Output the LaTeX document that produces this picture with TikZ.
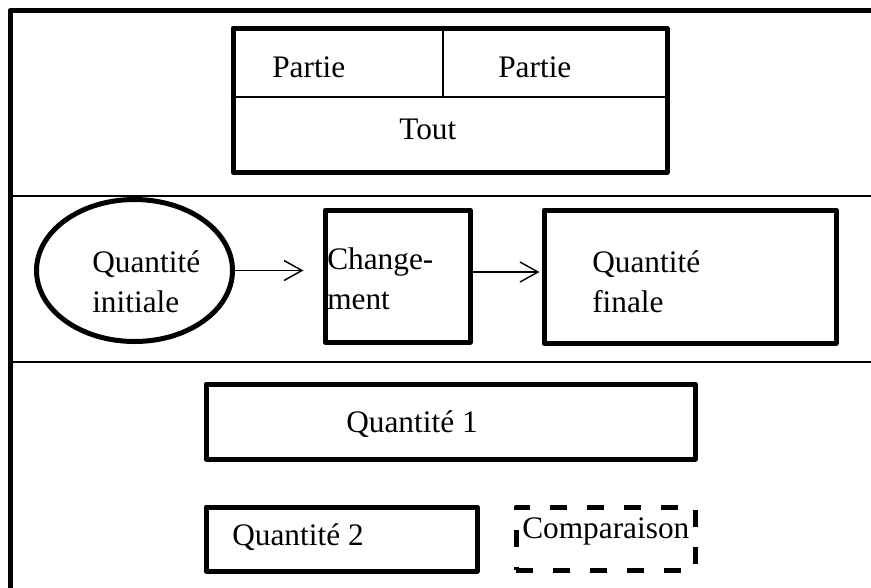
\documentclass[tikz,border=0pt]{standalone}
\usepackage{fontspec}
\setmainfont{Liberation Serif}
\usetikzlibrary{arrows.meta, fit, shapes}
\tikzset{
    boxT/.style={draw, line width=3.75pt, line join=round, inner sep=0pt},
    boxD/.style={boxT, dash pattern=on 12.75pt off 15pt},
    bareS/.style={line width=1.5pt},
    bareA/.style={line width=1.1pt, -{Straight Barb[length=13.5pt,width=15pt]}},
    txt/.style={inner sep=0pt, anchor=base west, align=left, font=\fontsize{23.5}{30}\selectfont}
}
\begin{document}
\begin{tikzpicture}[x=0.75pt, y=-0.75pt]
    \useasboundingbox (0,0) rectangle (871,587);
    % frame and the two bands
    \draw[line width=3.75pt, line join=round] (10,600) -- (10,10.5) -- (880,10.5);
    \draw[bareS] (10,196) -- (880,196);
    \draw[bareS] (10,362) -- (880,362);
    % parts and whole
    \coordinate (t1) at (233,28);
    \coordinate (t2) at (667,172);
    \coordinate (t3) at (443,97);
    \node[boxT, fit={(t1)(t2)}] (tout) {};
    \draw[line width=2pt] (tout.west |- t3) -- (tout.east |- t3);
    \draw[line width=2pt] (tout.north -| t3) -- (t3);
    \node[txt] (pA) at (272,77) {Partie};
    \node[txt] (pB) at (498,77) {Partie};
    \node[txt] (tT) at (399,139) {Tout};
    % change
    \coordinate (c1) at (325,210);
    \coordinate (c2) at (470,342);
    \coordinate (f1) at (544,210);
    \coordinate (f2) at (836,343);
    \node[boxT, ellipse, minimum width=147pt, minimum height=106.5pt] (ini) at (134.5,270.5) {};
    \node[boxT, fit={(c1)(c2)}] (chg) {};
    \node[boxT, fit={(f1)(f2)}] (fin) {};
    \draw[bareA, shorten >=14.25pt] (ini.east) -- (ini.east -| chg.west);
    \draw[bareA, shorten >=1.5pt] ([yshift=3pt]chg.east) -- ([yshift=3pt]chg.east -| fin.west);
    \node[txt] (tIni) at (92,312) {Quantité\\initiale};
    \node[txt] (tChg) at (327,309) {Change-\\ment};
    \node[txt] (tFin) at (592,312) {Quantité\\finale};
    % comparison
    \coordinate (q1) at (206,384);
    \coordinate (q2) at (695,459);
    \coordinate (q3) at (206,507);
    \coordinate (q4) at (477,571);
    \coordinate (q5) at (516,507);
    \coordinate (q6) at (695,570);
    \node[boxT, fit={(q1)(q2)}] (qA) {};
    \node[boxT, fit={(q3)(q4)}] (qB) {};
    \node[boxD, fit={(q5)(q6)}] (cmp) {};
    \node[txt] (tQ1) at (346,432) {Quantité 1};
    \node[txt] (tQ2) at (232,545) {Quantité 2};
    \node[txt] (tCmp) at (522,538) {Comparaison};
\end{tikzpicture}
\end{document}
